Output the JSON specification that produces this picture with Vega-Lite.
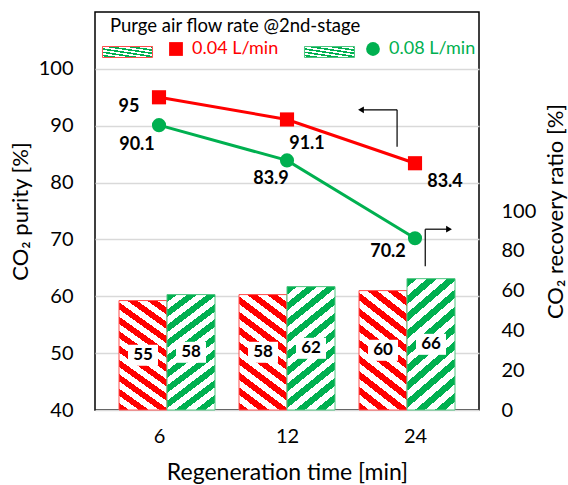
{
  "$schema": "https://vega.github.io/schema/vega-lite/v6.json",
  "width": 384,
  "height": 398,
  "autosize": "none",
  "padding": {"left": 95, "top": 12, "right": 89, "bottom": 75},
  "data": {"values": [
    {"time": 6, "rate": "0.04 L/min", "purity": 95, "recovery": 55},
    {"time": 6, "rate": "0.08 L/min", "purity": 90.1, "recovery": 58},
    {"time": 12, "rate": "0.04 L/min", "purity": 91.1, "recovery": 58},
    {"time": 12, "rate": "0.08 L/min", "purity": 83.9, "recovery": 62},
    {"time": 24, "rate": "0.04 L/min", "purity": 83.4, "recovery": 60},
    {"time": 24, "rate": "0.08 L/min", "purity": 70.2, "recovery": 66}
  ]},
  "layer": [
    {
      "mark": {"type": "bar", "strokeWidth": 1},
      "encoding": {
        "x": {"field": "time", "type": "ordinal", "axis": null},
        "xOffset": {"field": "rate", "type": "nominal"},
        "y": {"field": "recovery", "type": "quantitative", "scale": {"domain": [0, 200], "nice": false},
          "axis": {"orient": "right", "values": [0, 20, 40, 60, 80, 100], "title": "CO₂ recovery ratio [%]", "titleAngle": 270, "labelFontSize": 20, "titleFontSize": 22, "labelPadding": 22, "titlePadding": 32, "grid": false}},
        "fill": {
          "condition": {"test": "datum.rate === '0.04 L/min'", "value": {"gradient": "linear", "x1": 0, "y1": 1, "x2": 0.375, "y2": -0.196, "stops": [
            {"offset": 0, "color": "#FF0000"}, {"offset": 0.05, "color": "#FF0000"}, {"offset": 0.05, "color": "#FFFFFF"}, {"offset": 0.1, "color": "#FFFFFF"},
            {"offset": 0.1, "color": "#FF0000"}, {"offset": 0.15, "color": "#FF0000"}, {"offset": 0.15, "color": "#FFFFFF"}, {"offset": 0.2, "color": "#FFFFFF"},
            {"offset": 0.2, "color": "#FF0000"}, {"offset": 0.25, "color": "#FF0000"}, {"offset": 0.25, "color": "#FFFFFF"}, {"offset": 0.3, "color": "#FFFFFF"},
            {"offset": 0.3, "color": "#FF0000"}, {"offset": 0.35, "color": "#FF0000"}, {"offset": 0.35, "color": "#FFFFFF"}, {"offset": 0.4, "color": "#FFFFFF"},
            {"offset": 0.4, "color": "#FF0000"}, {"offset": 0.45, "color": "#FF0000"}, {"offset": 0.45, "color": "#FFFFFF"}, {"offset": 0.5, "color": "#FFFFFF"},
            {"offset": 0.5, "color": "#FF0000"}, {"offset": 0.55, "color": "#FF0000"}, {"offset": 0.55, "color": "#FFFFFF"}, {"offset": 0.6, "color": "#FFFFFF"},
            {"offset": 0.6, "color": "#FF0000"}, {"offset": 0.65, "color": "#FF0000"}, {"offset": 0.65, "color": "#FFFFFF"}, {"offset": 0.7, "color": "#FFFFFF"},
            {"offset": 0.7, "color": "#FF0000"}, {"offset": 0.75, "color": "#FF0000"}, {"offset": 0.75, "color": "#FFFFFF"}, {"offset": 0.8, "color": "#FFFFFF"},
            {"offset": 0.8, "color": "#FF0000"}, {"offset": 0.85, "color": "#FF0000"}, {"offset": 0.85, "color": "#FFFFFF"}, {"offset": 0.9, "color": "#FFFFFF"},
            {"offset": 0.9, "color": "#FF0000"}, {"offset": 0.95, "color": "#FF0000"}, {"offset": 0.95, "color": "#FFFFFF"}, {"offset": 1, "color": "#FFFFFF"}
          ]}},
          "value": {"gradient": "linear", "x1": 0, "y1": 0, "x2": 0.375, "y2": 1.196, "stops": [
            {"offset": 0, "color": "#00B050"}, {"offset": 0.05, "color": "#00B050"}, {"offset": 0.05, "color": "#FFFFFF"}, {"offset": 0.1, "color": "#FFFFFF"},
            {"offset": 0.1, "color": "#00B050"}, {"offset": 0.15, "color": "#00B050"}, {"offset": 0.15, "color": "#FFFFFF"}, {"offset": 0.2, "color": "#FFFFFF"},
            {"offset": 0.2, "color": "#00B050"}, {"offset": 0.25, "color": "#00B050"}, {"offset": 0.25, "color": "#FFFFFF"}, {"offset": 0.3, "color": "#FFFFFF"},
            {"offset": 0.3, "color": "#00B050"}, {"offset": 0.35, "color": "#00B050"}, {"offset": 0.35, "color": "#FFFFFF"}, {"offset": 0.4, "color": "#FFFFFF"},
            {"offset": 0.4, "color": "#00B050"}, {"offset": 0.45, "color": "#00B050"}, {"offset": 0.45, "color": "#FFFFFF"}, {"offset": 0.5, "color": "#FFFFFF"},
            {"offset": 0.5, "color": "#00B050"}, {"offset": 0.55, "color": "#00B050"}, {"offset": 0.55, "color": "#FFFFFF"}, {"offset": 0.6, "color": "#FFFFFF"},
            {"offset": 0.6, "color": "#00B050"}, {"offset": 0.65, "color": "#00B050"}, {"offset": 0.65, "color": "#FFFFFF"}, {"offset": 0.7, "color": "#FFFFFF"},
            {"offset": 0.7, "color": "#00B050"}, {"offset": 0.75, "color": "#00B050"}, {"offset": 0.75, "color": "#FFFFFF"}, {"offset": 0.8, "color": "#FFFFFF"},
            {"offset": 0.8, "color": "#00B050"}, {"offset": 0.85, "color": "#00B050"}, {"offset": 0.85, "color": "#FFFFFF"}, {"offset": 0.9, "color": "#FFFFFF"},
            {"offset": 0.9, "color": "#00B050"}, {"offset": 0.95, "color": "#00B050"}, {"offset": 0.95, "color": "#FFFFFF"}, {"offset": 1, "color": "#FFFFFF"}
          ]}
        },
        "stroke": {"field": "rate", "type": "nominal",
          "scale": {"domain": ["0.04 L/min", "0.08 L/min"], "range": ["#FF4D4D", "#4DC47F"]},
          "legend": {
            "orient": "none", "legendX": 15, "legendY": 5, "direction": "horizontal",
            "title": "Purge air flow rate @2nd-stage", "titleFont": "Lato", "titleFontSize": 18.5, "titleFontWeight": "normal", "titleColor": "#000000", "titlePadding": 5, "titleLimit": 400,
            "labelExpr": "''", "labelOffset": 0, "symbolType": "M-1.73,-0.5H2.82V0.5H-1.73Z", "symbolSize": 484, "symbolStrokeWidth": 1, "columnPadding": 147, "padding": 0,
            "encode": {"symbols": {"update": {"fill": {"signal": "datum.value === '0.04 L/min' ? {gradient:'linear',x1:0,y1:1,x2:1.164,y2:0.744,stops:[{offset:0,color:'#FF0000'},{offset:0.125,color:'#FF0000'},{offset:0.125,color:'#FFFFFF'},{offset:0.25,color:'#FFFFFF'},{offset:0.25,color:'#FF0000'},{offset:0.375,color:'#FF0000'},{offset:0.375,color:'#FFFFFF'},{offset:0.5,color:'#FFFFFF'},{offset:0.5,color:'#FF0000'},{offset:0.625,color:'#FF0000'},{offset:0.625,color:'#FFFFFF'},{offset:0.75,color:'#FFFFFF'},{offset:0.75,color:'#FF0000'},{offset:0.875,color:'#FF0000'},{offset:0.875,color:'#FFFFFF'},{offset:1,color:'#FFFFFF'}]} : {gradient:'linear',x1:0,y1:0,x2:1.164,y2:0.256,stops:[{offset:0,color:'#00B050'},{offset:0.125,color:'#00B050'},{offset:0.125,color:'#FFFFFF'},{offset:0.25,color:'#FFFFFF'},{offset:0.25,color:'#00B050'},{offset:0.375,color:'#00B050'},{offset:0.375,color:'#FFFFFF'},{offset:0.5,color:'#FFFFFF'},{offset:0.5,color:'#00B050'},{offset:0.625,color:'#00B050'},{offset:0.625,color:'#FFFFFF'},{offset:0.75,color:'#FFFFFF'},{offset:0.75,color:'#00B050'},{offset:0.875,color:'#00B050'},{offset:0.875,color:'#FFFFFF'},{offset:1,color:'#FFFFFF'}]}"}}}}
          }
        }
      }
    },
    {
      "encoding": {
        "x": {"field": "time", "type": "ordinal", "axis": null},
        "xOffset": {"field": "rate", "type": "nominal"},
        "y": {"field": "recovery", "type": "quantitative", "scale": {"domain": [0, 400], "nice": false}, "axis": null}
      },
      "layer": [
        {"mark": {"type": "point", "shape": "M-1.43,-1H1.43V1H-1.43Z", "size": 441, "filled": true, "fill": "#FFFFFF", "opacity": 1, "strokeWidth": 0}},
        {"mark": {"type": "text", "fontSize": 17, "fontWeight": "bold", "color": "#000000", "font": "Lato"}, "encoding": {"text": {"field": "recovery", "type": "quantitative"}}}
      ]
    },
    {
      "encoding": {
        "x": {"field": "time", "type": "ordinal",
          "axis": {"title": "Regeneration time [min]", "labelAngle": 0, "labelFontSize": 20, "titleFontSize": 23, "labelPadding": 16, "titlePadding": 15}},
        "y": {"field": "purity", "type": "quantitative", "scale": {"domain": [40, 110], "nice": false, "zero": false},
          "axis": {"orient": "left", "values": [40, 50, 60, 70, 80, 90, 100], "title": "CO₂ purity [%]", "labelFontSize": 20, "titleFontSize": 22, "labelPadding": 22, "titlePadding": 6, "grid": true, "gridColor": "#D9D9D9", "gridWidth": 1.5}}
      },
      "layer": [
        {"mark": {"type": "line", "strokeWidth": 3},
          "encoding": {"detail": {"field": "rate"}, "color": {"condition": {"test": "datum.rate === '0.04 L/min'", "value": "#FF0000"}, "value": "#00B050"}}},
        {"mark": {"type": "point", "filled": true, "opacity": 1, "size": 200},
          "encoding": {
            "color": {"field": "rate", "type": "nominal", "scale": {"range": ["#FF0000", "#00B050"]},
              "legend": {"orient": "none", "legendX": 72, "legendY": 28, "direction": "horizontal", "title": null, "labelFont": "Lato", "labelFontSize": 18, "labelOffset": 7, "symbolSize": 190, "symbolOpacity": 1, "columnPadding": 85, "padding": 0,
                "encode": {"labels": {"update": {"fill": {"signal": "datum.value === '0.04 L/min' ? '#FF0000' : '#00B050'"}}}}}},
            "shape": {"field": "rate", "type": "nominal", "scale": {"range": ["square", "circle"]}}
          }},
        {"transform": [{"filter": "datum.rate === '0.04 L/min' && datum.time === 6"}], "mark": {"type": "text", "dx": -30, "dy": 10, "fontSize": 18, "fontWeight": "bold", "font": "Lato", "color": "#000000"}, "encoding": {"text": {"field": "purity", "type": "quantitative"}}},
        {"transform": [{"filter": "datum.rate === '0.08 L/min' && datum.time === 6"}], "mark": {"type": "text", "dx": -22, "dy": 20, "fontSize": 18, "fontWeight": "bold", "font": "Lato", "color": "#000000"}, "encoding": {"text": {"field": "purity", "type": "quantitative"}}},
        {"transform": [{"filter": "datum.rate === '0.04 L/min' && datum.time === 12"}], "mark": {"type": "text", "dx": 20, "dy": 25, "fontSize": 18, "fontWeight": "bold", "font": "Lato", "color": "#000000"}, "encoding": {"text": {"field": "purity", "type": "quantitative"}}},
        {"transform": [{"filter": "datum.rate === '0.08 L/min' && datum.time === 12"}], "mark": {"type": "text", "dx": -16, "dy": 19, "fontSize": 18, "fontWeight": "bold", "font": "Lato", "color": "#000000"}, "encoding": {"text": {"field": "purity", "type": "quantitative"}}},
        {"transform": [{"filter": "datum.rate === '0.04 L/min' && datum.time === 24"}], "mark": {"type": "text", "dx": 30, "dy": 19, "fontSize": 18, "fontWeight": "bold", "font": "Lato", "color": "#000000"}, "encoding": {"text": {"field": "purity", "type": "quantitative"}}},
        {"transform": [{"filter": "datum.rate === '0.08 L/min' && datum.time === 24"}], "mark": {"type": "text", "dx": -27, "dy": 14, "fontSize": 18, "fontWeight": "bold", "font": "Lato", "color": "#000000"}, "encoding": {"text": {"field": "purity", "type": "quantitative"}}}
      ]
    },
    {
      "encoding": {
        "x": {"field": "x", "type": "quantitative", "scale": {"domain": [0, 3], "nice": false, "zero": false}, "axis": null},
        "y": {"field": "y", "type": "quantitative", "scale": {"domain": [40, 110], "nice": false, "zero": false}, "axis": null}
      },
      "layer": [
        {"data": {"values": [
          {"x": 2.36, "y": 86.3, "x2": 2.36, "y2": 92.8},
          {"x": 2.36, "y": 92.8, "x2": 2.08, "y2": 92.8},
          {"x": 2.58, "y": 65.3, "x2": 2.58, "y2": 71.8},
          {"x": 2.58, "y": 71.8, "x2": 2.76, "y2": 71.8}
        ]},
          "mark": {"type": "rule", "color": "#000000", "strokeWidth": 1.2},
          "encoding": {"x2": {"field": "x2"}, "y2": {"field": "y2"}}},
        {"data": {"values": [{"x": 2.078, "y": 92.8}]}, "mark": {"type": "point", "shape": "triangle-left", "size": 45, "filled": true, "color": "#000000", "opacity": 1}},
        {"data": {"values": [{"x": 2.766, "y": 71.8}]}, "mark": {"type": "point", "shape": "triangle-right", "size": 45, "filled": true, "color": "#000000", "opacity": 1}}
      ]
    }
  ],
  "resolve": {"scale": {"x": "independent", "y": "independent"}},
  "config": {
    "font": "Lato",
    "view": {"stroke": "#000000", "strokeWidth": 1.5},
    "axis": {"labelFont": "Lato", "titleFont": "Lato", "labelColor": "#000000", "titleColor": "#000000", "titleFontWeight": "normal", "ticks": false, "tickSize": 0, "domain": false},
    "scale": {"bandPaddingInner": 0.42, "bandPaddingOuter": 0.21},
    "legend": {"labelFont": "Lato", "titleFont": "Lato"}
  }
}
